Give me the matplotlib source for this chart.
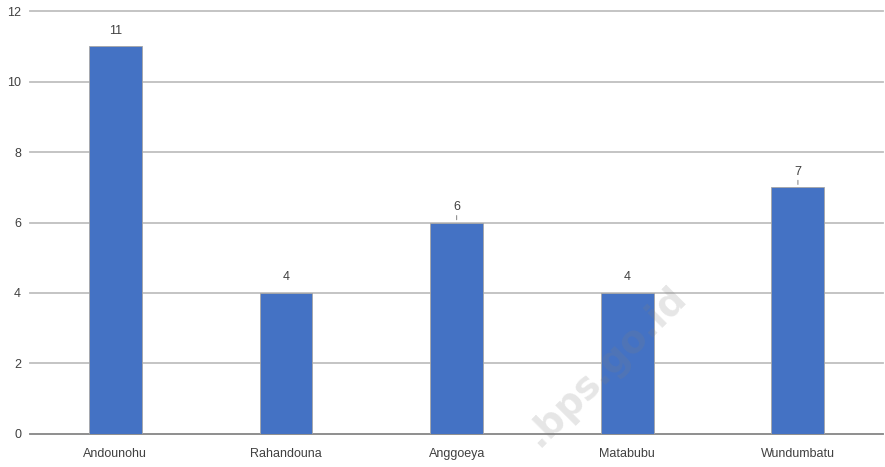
import matplotlib
matplotlib.use("Agg")
from matplotlib import pyplot as plt
import numpy as np

# Data
villages = ["Andounohu", "Rahandouna", "Anggoeya", "Matabubu", "Wundumbatu"]
counts = [11, 4, 6, 4, 7]
leader_line = [False, False, True, False, True]
y_ticks = [0, 2, 4, 6, 8, 10, 12]

plt.rcParams['font.family'] = ['Liberation Sans', 'DejaVu Sans']

fig = plt.figure(figsize=(8.85, 4.67), dpi=100)
ax = fig.add_axes([0.034, 0.0707, 0.964, 0.9057])

x = np.arange(len(villages))
ax.bar(x, counts, width=0.31, color="#4472C4", edgecolor="#a6a6a6",
       linewidth=0.6, zorder=3)

# Data labels, some with a short leader line
for xi, val, lead in zip(x, counts, leader_line):
    ax.annotate(str(val), (xi, val), xytext=(0, 7), textcoords="offset points",
                ha="center", va="bottom", fontsize=9, color="#404040")
    if lead:
        ax.annotate("", (xi, val), xytext=(0, 7), textcoords="offset points",
                    arrowprops=dict(arrowstyle="-", color="#7f7f7f", lw=0.7))

ax.set_xlim(-0.5, len(villages) - 0.5)
ax.set_ylim(0, 12)
ax.set_yticks(y_ticks)
ax.set_xticks(x)
ax.set_xticklabels(villages)
ax.tick_params(axis="both", length=0, labelsize=9, colors="#404040")
ax.tick_params(axis="y", pad=6.5)
ax.tick_params(axis="x", pad=10)

ax.grid(axis="y", color="#bfbfbf", linewidth=1.3, zorder=0)
for gl in ax.yaxis.get_gridlines():
    gl.set_clip_on(False)
for side in ["left", "right", "top"]:
    ax.spines[side].set_visible(False)
ax.spines["bottom"].set_color("#8c8c8c")
ax.spines["bottom"].set_linewidth(1.3)

# faint watermark
fig.text(0.685, 0.215, ".bps.go.id", rotation=45, fontsize=27,
         fontweight="bold", color="#808080", alpha=0.2, ha="center",
         va="center", family="DejaVu Sans", zorder=5)

fig.savefig("out.png", dpi=100)
